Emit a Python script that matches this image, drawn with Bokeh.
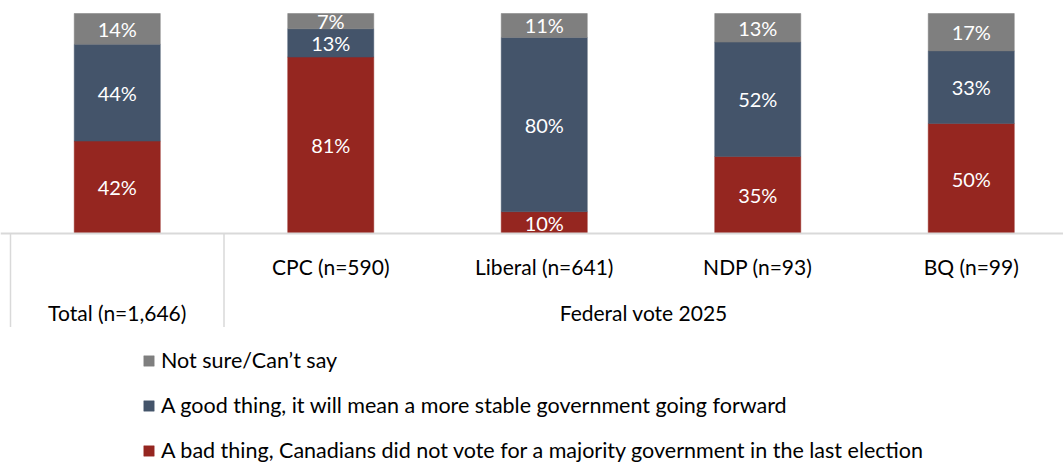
from bokeh.plotting import figure
from bokeh.models import Range1d, ColumnDataSource, Legend, LegendItem
from bokeh.core.properties import value
from bokeh.embed import file_html
from bokeh.resources import INLINE

categories = ["Total (n=1,646)", "CPC (n=590)", "Liberal (n=641)", "NDP (n=93)", "BQ (n=99)"]
group_label = "Federal vote 2025"
bad = [42, 81, 10, 35, 50]
good = [44, 13, 80, 52, 33]
notsure = [14, 7, 11, 13, 17]
series_names = [
    "A bad thing, Canadians did not vote for a majority government in the last election",
    "A good thing, it will mean a more stable government going forward",
    "Not sure/Can\u2019t say",
]
colors = ["#952620", "#44546A", "#7F7F7F"]

FONT = "Lato"

n = len(categories)
xs = [i + 0.5 for i in range(n)]
tot = [b + g + s for b, g, s in zip(bad, good, notsure)]
bad_n = [b / t * 100 for b, t in zip(bad, tot)]
good_n = [g / t * 100 for g, t in zip(good, tot)]
ns_n = [s / t * 100 for s, t in zip(notsure, tot)]

src = ColumnDataSource(dict(x=xs, bad=bad_n, good=good_n, ns=ns_n))

# pixel mapping: x_px = 10 + 213.5*x ; y_px = 233 - 2.2*v
x0 = -10 / 213.5
x1 = (1063 - 10) / 213.5
y_top = 233 / 2.2
y_bot = (233 - 464) / 2.2

p = figure(width=1063, height=464, output_backend="svg", toolbar_location=None,
           x_range=Range1d(x0, x1), y_range=Range1d(y_bot, y_top),
           x_axis_type=None, y_axis_type=None, min_border=0)
p.outline_line_color = None
p.xgrid.visible = False
p.ygrid.visible = False
p.background_fill_color = "white"

rs = p.vbar_stack(["bad", "good", "ns"], x="x", width=0.403, source=src,
                  color=colors, line_color=colors, line_width=0.5)

# data labels
lx, ly, lt = [], [], []
for i in range(n):
    base = 0
    for raw, norm in ((bad[i], bad_n[i]), (good[i], good_n[i]), (notsure[i], ns_n[i])):
        lx.append(xs[i])
        ly.append(base + norm / 2)
        lt.append(f"{raw}%")
        base += norm
p.text(x=lx, y=ly, text=lt, text_color="white", text_align="center",
       text_baseline="middle", text_font=value(FONT), text_font_size="20px")

# category axis: baseline, separators, labels
p.segment(x0=[x0], y0=[0], x1=[x1], y1=[0], line_color="#D9D9D9", line_width=2)
sep_x = [0, 1]
p.segment(x0=sep_x, y0=[0, 0], x1=sep_x, y1=[-42.5, -42.5], line_color="#D9D9D9", line_width=1.5)

p.text(x=xs[1:], y=[-14.8] * (n - 1), text=categories[1:], text_color="black",
       text_align="center", text_baseline="middle", text_font=value(FONT), text_font_size="21px")
p.text(x=[xs[0]], y=[-35.7], text=[categories[0]], text_color="black",
       text_align="center", text_baseline="middle", text_font=value(FONT), text_font_size="21px")
p.text(x=[(1 + x1) / 2], y=[-35.7], text=[group_label], text_color="black",
       text_align="center", text_baseline="middle", text_font=value(FONT), text_font_size="21px")

legend = Legend(items=[LegendItem(label=series_names[2], renderers=[rs[2]]),
                       LegendItem(label=series_names[1], renderers=[rs[1]]),
                       LegendItem(label=series_names[0], renderers=[rs[0]])],
                location=(142, 1), orientation="vertical")
legend.glyph_width = 13
legend.glyph_height = 13
legend.label_height = 13
legend.spacing = 19
legend.padding = 0
legend.margin = 0
legend.label_standoff = 6
legend.border_line_color = None
legend.background_fill_alpha = 0
legend.label_text_font = FONT
legend.label_text_font_size = "21.5px"
legend.label_text_color = "black"
p.add_layout(legend, "center")

open("out.html", "w").write(file_html(p, INLINE))
